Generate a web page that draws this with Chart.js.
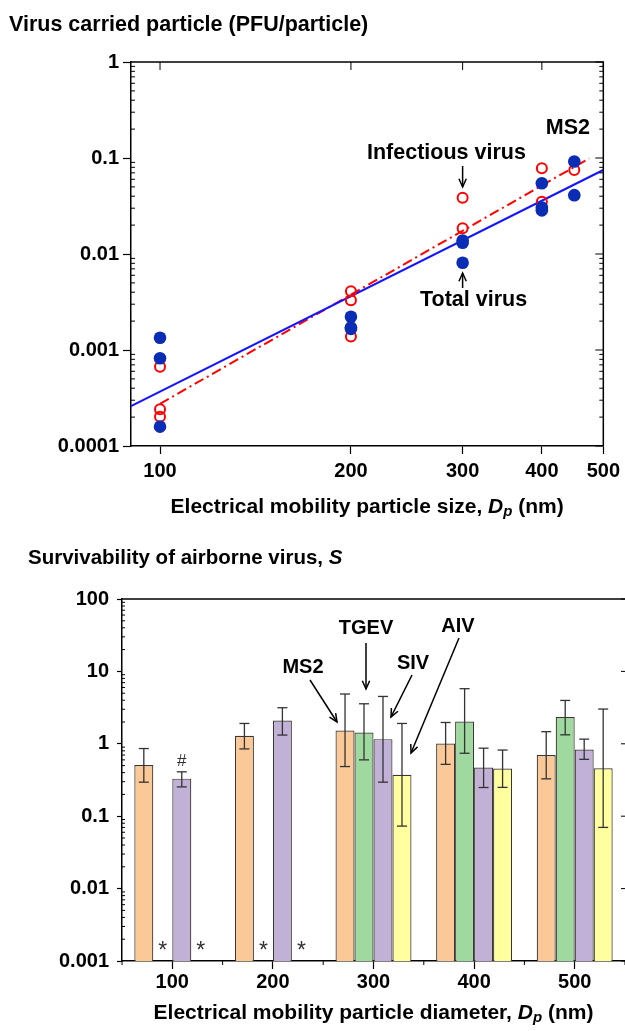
<!DOCTYPE html>
<html>
<head>
<meta charset="utf-8">
<script src="https://cdn.jsdelivr.net/npm/chart.js@4.4.0/dist/chart.umd.min.js"></script>
<style>
  html, body { margin: 0; padding: 0; background: #fff; overflow: hidden; }
  body { width: 625px; height: 1031px; position: relative; }
  #top { position: absolute; left: 0; top: 0; }
  #bottom { position: absolute; left: 0; top: 535px; }
</style>
</head>
<body>
<canvas id="top" width="625" height="535"></canvas>
<canvas id="bottom" width="625" height="496"></canvas>
<script>
'use strict';

const FONT = "'Liberation Sans', Arial, sans-serif";
Chart.defaults.font.family = FONT;
Chart.defaults.color = '#000';

// ---- top chart: virus carried particle vs size ----
let sizeTicks = [100, 200, 300, 400, 500];
let pfuTicks = [1, 0.1, 0.01, 0.001, 0.0001];
let pfuLabels = ['1', '0.1', '0.01', '0.001', '0.0001'];

let totalSize = [100, 100, 100, 200, 200, 200, 300, 300, 300, 400, 400, 400, 450, 450];
let totalPfu = [0.00134, 0.00082, 0.000159, 0.00222, 0.00172, 0.00166, 0.0131, 0.0138, 0.0081, 0.0545, 0.0305, 0.0285, 0.092, 0.041];

let infSize = [100, 100, 100, 200, 200, 200, 300, 300, 400, 400, 450];
let infPfu = [0.00067, 0.000241, 0.000202, 0.0041, 0.0033, 0.00138, 0.0386, 0.0185, 0.078, 0.035, 0.075];

// fitted lines (end points)
let totalFitSize = [90, 500];
let totalFitPfu = [0.00026, 0.075];
let infFitSize = [100, 475];
let infFitPfu = [0.000275, 0.099];

// ---- bottom chart: survivability ----
let diameters = ['100', '200', '300', '400', '500'];
let survLabels = ['100', '10', '1', '0.1', '0.01', '0.001'];
let survTicks = [100, 10, 1, 0.1, 0.01, 0.001];

let ms2S = [0.51, 1.29, 1.53, 1.01, 0.70];
let ms2Hi = [0.86, 1.91, 4.87, 1.97, 1.47];
let ms2Lo = [0.295, 0.85, 0.485, 0.52, 0.328];

let tgevS = [null, null, 1.43, 2.03, 2.34];
let tgevHi = [null, null, 3.57, 5.77, 3.97];
let tgevLo = [null, null, 0.60, 0.74, 1.33];

let sivS = [0.33, 2.10, 1.16, 0.47, 0.835];
let sivHi = [0.41, 3.15, 4.51, 0.87, 1.16];
let sivLo = [0.254, 1.32, 0.295, 0.249, 0.61];

let aivS = [null, null, 0.373, 0.456, 0.46];
let aivHi = [null, null, 1.91, 0.82, 3.02];
let aivLo = [null, null, 0.073, 0.25, 0.07];

let ms2Marks = ['', '', '', '', ''];
let tgevMarks = ['*', '*', '', '', ''];
let sivMarks = ['#', '', '', '', ''];
let aivMarks = ['*', '*', '', '', ''];

function toPoints(xs, ys) {
  return xs.map((x, i) => ({ x: x, y: ys[i] }));
}

function isDecade(v) {
  let l = Math.log10(v);
  return Math.abs(l - Math.round(l)) < 1e-6;
}

function logTickValues(lo, hi) {
  let out = [];
  for (let d = lo; d < hi * 0.999; d *= 10) {
    for (let m = 1; m < 10; m++) out.push(d * m);
  }
  out.push(hi);
  return out;
}

function labelFor(v, vals, labels) {
  let i = vals.findIndex(t => Math.abs(t - v) / t < 1e-6);
  return i >= 0 ? labels[i] : '';
}

function line(ctx, x1, y1, x2, y2) {
  ctx.beginPath();
  ctx.moveTo(x1, y1);
  ctx.lineTo(x2, y2);
  ctx.stroke();
}

function arrow(ctx, x1, y1, x2, y2) {
  line(ctx, x1, y1, x2, y2);
  let ang = Math.atan2(y2 - y1, x2 - x1);
  let len = 9;
  let spread = 0.42;
  ctx.beginPath();
  ctx.moveTo(x2 - len * Math.cos(ang - spread), y2 - len * Math.sin(ang - spread));
  ctx.lineTo(x2, y2);
  ctx.lineTo(x2 - len * Math.cos(ang + spread), y2 - len * Math.sin(ang + spread));
  ctx.stroke();
}

function richText(ctx, parts, x, y, align) {
  let w = 0;
  parts.forEach(p => { ctx.font = p.font; p.w = ctx.measureText(p.text).width; w += p.w; });
  let cx = align === 'center' ? x - w / 2 : x;
  ctx.textAlign = 'left';
  ctx.textBaseline = 'middle';
  parts.forEach(p => {
    ctx.font = p.font;
    ctx.fillText(p.text, cx, y + (p.dy || 0));
    cx += p.w;
  });
}

let tickFont = { family: FONT, size: 20, weight: 'bold' };

// ---------- top chart ----------
let topDecor = {
  id: 'topDecor',
  afterDraw(chart) {
    let ctx = chart.ctx;
    let a = chart.chartArea;
    let xs = chart.scales.x;
    let ys = chart.scales.y;
    ctx.save();
    ctx.strokeStyle = '#000';
    ctx.lineWidth = 1.5;
    ctx.beginPath();
    ctx.moveTo(a.left, a.top);
    ctx.lineTo(a.right, a.top);
    ctx.lineTo(a.right, a.bottom);
    ctx.stroke();

    ctx.lineWidth = 1;
    ys.ticks.forEach(t => {
      let y = ys.getPixelForValue(t.value);
      if (isDecade(t.value)) {
        line(ctx, a.right - 8, y, a.right, y);
      } else {
        line(ctx, a.left, y, a.left + 4, y);
        line(ctx, a.right - 4, y, a.right, y);
      }
    });
    xs.ticks.forEach(t => {
      let x = xs.getPixelForValue(t.value);
      line(ctx, x, a.top, x, a.top + 8);
    });

    ctx.fillStyle = '#000';
    ctx.textBaseline = 'middle';
    ctx.font = 'bold 21.5px ' + FONT;
    ctx.textAlign = 'left';
    ctx.fillText('Virus carried particle (PFU/particle)', 9, 25);

    ctx.textAlign = 'right';
    ctx.fillText('MS2', 590, 128);
    ctx.textAlign = 'left';
    ctx.fillText('Infectious virus', 367, 153);
    ctx.fillText('Total virus', 420, 300);

    ctx.lineWidth = 1.5;
    let ax = xs.getPixelForValue(300);
    arrow(ctx, ax, 166, ax, 187);
    arrow(ctx, ax, 288, ax, 273);

    richText(ctx, [
      { text: 'Electrical mobility particle size, ', font: 'bold 21px ' + FONT },
      { text: 'D', font: 'italic bold 21px ' + FONT },
      { text: 'p', font: 'italic bold 15px ' + FONT, dy: 5 },
      { text: ' (nm)', font: 'bold 21px ' + FONT }
    ], (a.left + a.right) / 2, 507, 'center');
    ctx.restore();
  }
};

new Chart(document.getElementById('top'), {
  type: 'scatter',
  data: {
    datasets: [
      {
        label: 'Total virus',
        data: toPoints(totalSize, totalPfu),
        pointRadius: 6.3,
        pointBackgroundColor: '#0b2db5',
        pointBorderColor: '#0b2db5',
        pointBorderWidth: 0
      },
      {
        label: 'Infectious virus',
        data: toPoints(infSize, infPfu),
        pointRadius: 5,
        pointBackgroundColor: 'rgba(0,0,0,0)',
        pointBorderColor: '#ff0000',
        pointBorderWidth: 2
      },
      {
        label: 'Total virus fit',
        data: toPoints(totalFitSize, totalFitPfu),
        showLine: true,
        pointRadius: 0,
        borderColor: '#1414ff',
        borderWidth: 2
      },
      {
        label: 'Infectious virus fit',
        data: toPoints(infFitSize, infFitPfu),
        showLine: true,
        pointRadius: 0,
        borderColor: '#ff0000',
        borderWidth: 2,
        borderDash: [10, 4, 2, 4]
      }
    ]
  },
  options: {
    responsive: false,
    animation: false,
    layout: { padding: { top: 62, right: 21, left: 0, bottom: 0 } },
    scales: {
      x: {
        type: 'logarithmic',
        min: 90,
        max: 500,
        afterBuildTicks: s => { s.ticks = sizeTicks.map(v => ({ value: v })); },
        afterFit: s => { s.height = 89; },
        ticks: {
          autoSkip: false,
          maxRotation: 0,
          font: tickFont,
          color: '#000',
          padding: 5,
          callback: v => String(v)
        },
        grid: { drawOnChartArea: false, tickLength: 8, tickColor: '#000', tickWidth: 1.2 },
        border: { color: '#000', width: 1.5 }
      },
      y: {
        type: 'logarithmic',
        min: 0.0001,
        max: 1,
        afterBuildTicks: s => { s.ticks = logTickValues(0.0001, 1).map(v => ({ value: v })); },
        afterFit: s => { s.width = 131; },
        ticks: {
          autoSkip: false,
          font: tickFont,
          color: '#000',
          padding: 4,
          callback: v => labelFor(v, pfuTicks, pfuLabels)
        },
        grid: {
          drawOnChartArea: false,
          tickLength: 8,
          tickWidth: 1.2,
          tickColor: c => (c.tick && isDecade(c.tick.value)) ? '#000' : 'rgba(0,0,0,0)'
        },
        border: { color: '#000', width: 1.5 }
      }
    },
    plugins: { legend: { display: false }, tooltip: { enabled: false } }
  },
  plugins: [topDecor]
});

// ---------- bottom chart ----------
let errHiList = [ms2Hi, tgevHi, sivHi, aivHi];
let errLoList = [ms2Lo, tgevLo, sivLo, aivLo];
let markList = [ms2Marks, tgevMarks, sivMarks, aivMarks];

let bottomDecor = {
  id: 'bottomDecor',
  afterDatasetsDraw(chart) {
    let ctx = chart.ctx;
    let ys = chart.scales.y;
    ctx.save();
    ctx.strokeStyle = '#333';
    ctx.lineWidth = 1.3;
    chart.data.datasets.forEach((ds, k) => {
      let meta = chart.getDatasetMeta(k);
      ds.data.forEach((v, i) => {
        if (v === null) return;
        let x = meta.data[i].x;
        let yh = ys.getPixelForValue(errHiList[k][i]);
        let yl = ys.getPixelForValue(errLoList[k][i]);
        line(ctx, x, yh, x, yl);
        line(ctx, x - 5, yh, x + 5, yh);
        line(ctx, x - 5, yl, x + 5, yl);
      });
    });
    ctx.restore();
  },
  afterDraw(chart) {
    let ctx = chart.ctx;
    let a = chart.chartArea;
    let xs = chart.scales.x;
    let ys = chart.scales.y;
    ctx.save();
    ctx.strokeStyle = '#000';
    ctx.lineWidth = 1.5;
    line(ctx, a.left, a.top, a.right, a.top);

    ctx.lineWidth = 1;
    ys.ticks.forEach(t => {
      let y = ys.getPixelForValue(t.value);
      if (isDecade(t.value)) {
        line(ctx, a.right - 4, y, a.right, y);
      } else {
        line(ctx, a.left, y, a.left + 3, y);
      }
    });
    for (let i = 0; i <= diameters.length; i++) {
      let x = xs.getPixelForValue(i - 0.5);
      line(ctx, x, a.bottom, x, a.bottom + 4);
    }

    // markers for missing / special bars
    ctx.fillStyle = '#333';
    ctx.textAlign = 'center';
    ctx.textBaseline = 'middle';
    markList.forEach((marks, k) => {
      let meta = chart.getDatasetMeta(k);
      marks.forEach((m, i) => {
        if (!m) return;
        let x = meta.data[i].x;
        if (m === '*') {
          ctx.font = '23px ' + FONT;
          ctx.fillText('*', x, a.bottom - 9);
        } else {
          ctx.font = '17px ' + FONT;
          ctx.fillText(m, x, ys.getPixelForValue(errHiList[k][i]) - 11);
        }
      });
    });

    ctx.fillStyle = '#000';
    ctx.font = 'bold 20px ' + FONT;
    ctx.fillText('MS2', 303, 132);
    ctx.fillText('TGEV', 366, 93);
    ctx.fillText('SIV', 413, 128);
    ctx.fillText('AIV', 458, 91);

    ctx.strokeStyle = '#000';
    ctx.lineWidth = 1.5;
    arrow(ctx, 310, 145, 337, 187);
    arrow(ctx, 366, 108, 366, 154);
    arrow(ctx, 412, 140, 391, 182);
    arrow(ctx, 459, 103, 411, 218);

    richText(ctx, [
      { text: 'Survivability of airborne virus, ', font: 'bold 20.5px ' + FONT },
      { text: 'S', font: 'italic bold 20.5px ' + FONT }
    ], 28, 23, 'left');

    richText(ctx, [
      { text: 'Electrical mobility particle diameter, ', font: 'bold 21px ' + FONT },
      { text: 'D', font: 'italic bold 21px ' + FONT },
      { text: 'p', font: 'italic bold 15px ' + FONT, dy: 5 },
      { text: ' (nm)', font: 'bold 21px ' + FONT }
    ], (a.left + 625) / 2, 478, 'center');
    ctx.restore();
  }
};

let barBorder = '#3a3530';

new Chart(document.getElementById('bottom'), {
  type: 'bar',
  data: {
    labels: diameters,
    datasets: [
      { label: 'MS2', data: ms2S, backgroundColor: '#fbc997', borderColor: barBorder, borderWidth: 1.2 },
      { label: 'TGEV', data: tgevS, backgroundColor: '#9fd99f', borderColor: barBorder, borderWidth: 1.2 },
      { label: 'SIV', data: sivS, backgroundColor: '#c1b1d7', borderColor: barBorder, borderWidth: 1.2 },
      { label: 'AIV', data: aivS, backgroundColor: '#ffff9f', borderColor: barBorder, borderWidth: 1.2 }
    ]
  },
  options: {
    responsive: false,
    animation: false,
    barPercentage: 1,
    categoryPercentage: 0.755,
    layout: { padding: { top: 64, right: 0, left: 0, bottom: 0 } },
    scales: {
      x: {
        afterFit: s => { s.height = 70; },
        ticks: { font: tickFont, color: '#000', padding: 1, maxRotation: 0 },
        grid: { offset: false, drawOnChartArea: false, tickLength: 8, tickColor: '#000', tickWidth: 1.2 },
        border: { color: '#000', width: 1.5 }
      },
      y: {
        type: 'logarithmic',
        min: 0.001,
        max: 100,
        afterBuildTicks: s => { s.ticks = logTickValues(0.001, 100).map(v => ({ value: v })); },
        afterFit: s => { s.width = 122; },
        ticks: {
          autoSkip: false,
          font: tickFont,
          color: '#000',
          padding: 8,
          callback: v => labelFor(v, survTicks, survLabels)
        },
        grid: {
          drawOnChartArea: false,
          tickLength: 5,
          tickWidth: 1.2,
          tickColor: c => (c.tick && isDecade(c.tick.value)) ? '#000' : 'rgba(0,0,0,0)'
        },
        border: { color: '#000', width: 1.5 }
      }
    },
    plugins: { legend: { display: false }, tooltip: { enabled: false } }
  },
  plugins: [bottomDecor]
});
</script>
</body>
</html>
